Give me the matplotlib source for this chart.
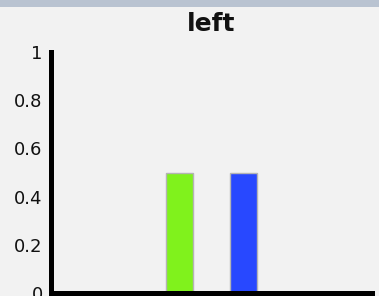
import matplotlib
matplotlib.use("Agg")
import matplotlib.pyplot as plt
from matplotlib.patches import Rectangle

# data
positions = [1, 2, 3, 4]
values = [0, 0.5, 0.5, 0]
colors = ["#ff0000", "#80f21c", "#2848ff", "#a0c000"]
yticks = [0, 0.2, 0.4, 0.6, 0.8, 1]
ytick_labels = ["0", "0.2", "0.4", "0.6", "0.8", "1"]
title = "left"

bg = "#f2f2f2"

fig = plt.figure(figsize=(3.79, 2.96), dpi=100, facecolor=bg)
# top window band
fig.patches.append(Rectangle((0, 1 - 7 / 296), 1, 7 / 296,
                             transform=fig.transFigure, fc="#b9c3d1",
                             ec="none", zorder=0))

ax = fig.add_axes([51 / 379, 3 / 296, (372 - 51) / 379, (293 - 52) / 296])
ax.set_facecolor(bg)

ax.bar(positions, values, width=0.42, color=colors,
       edgecolor="#b4b4b4", linewidth=1)

ax.set_xlim(0, 5)
ax.set_ylim(0, 1)
ax.set_xticks([])
ax.set_yticks(yticks)
ax.set_yticklabels(ytick_labels, fontsize=13, family="DejaVu Sans",
                   color="#111111")
ax.tick_params(axis="y", length=0, pad=6)

for side in ["top", "right"]:
    ax.spines[side].set_visible(False)
for side in ["left", "bottom"]:
    ax.spines[side].set_linewidth(3.6)
    ax.spines[side].set_color("black")
ax.spines["left"].set_capstyle("projecting")

ax.set_title(title, fontsize=18, fontweight="bold", family="DejaVu Sans",
             pad=15, color="#111111")

fig.savefig("out.png", dpi=100, facecolor=bg)
